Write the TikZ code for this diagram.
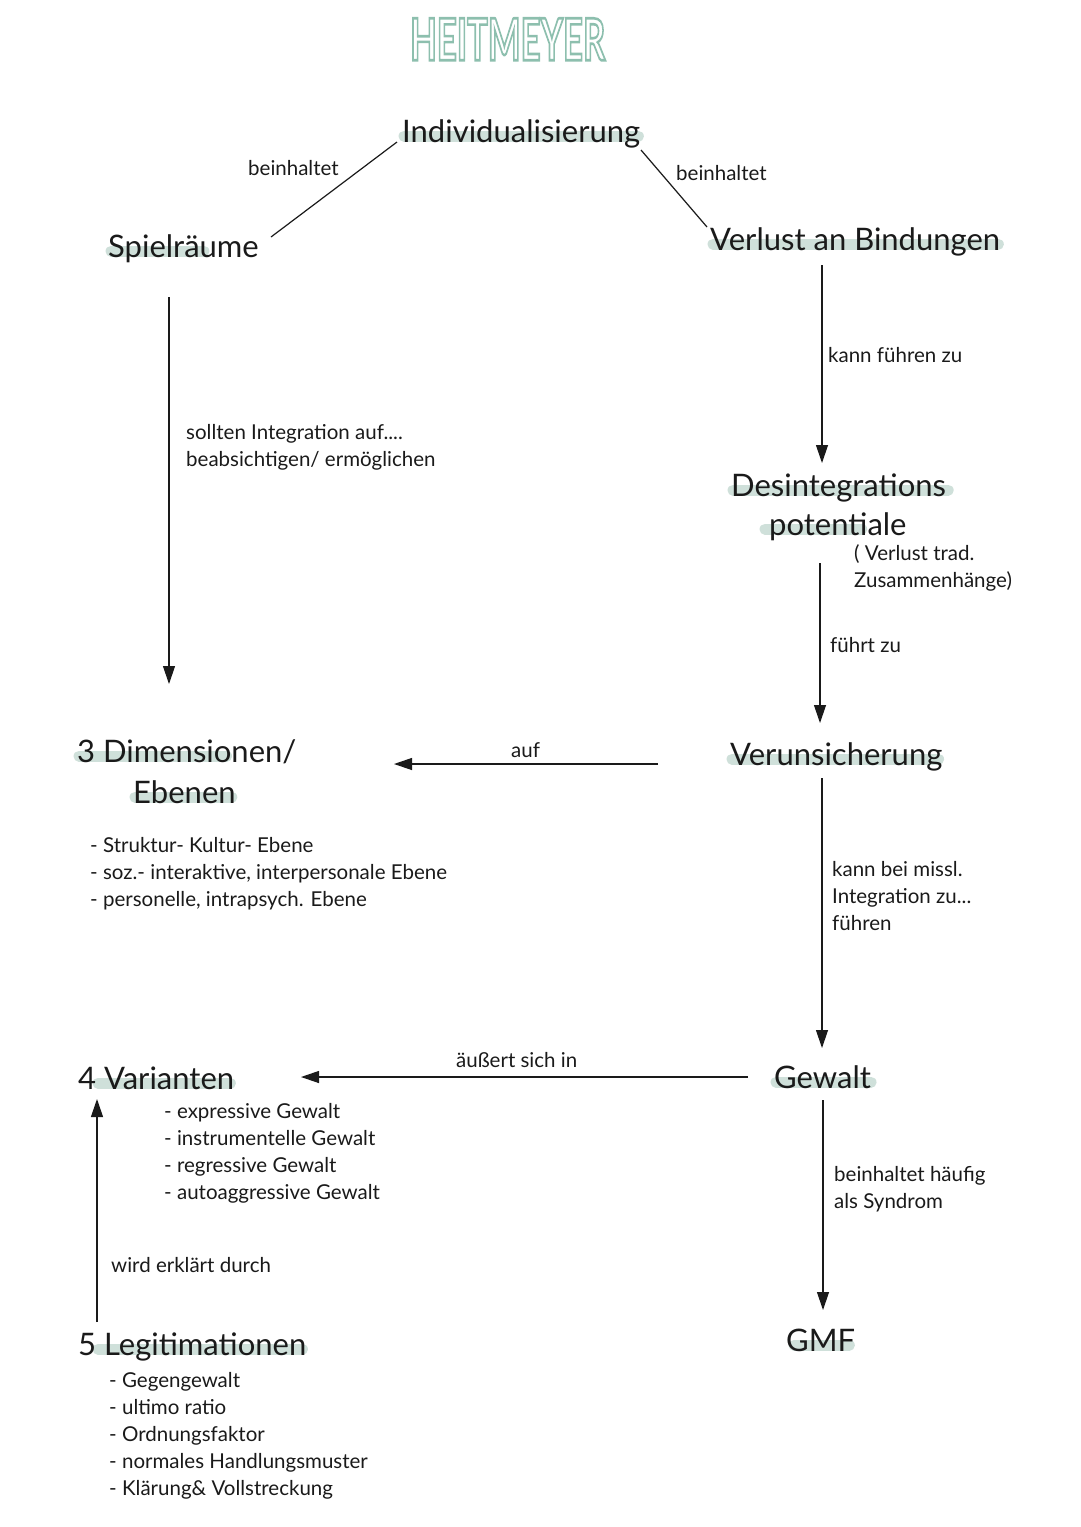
\documentclass[tikz,border=0pt]{standalone}
\usepackage{fontspec}
\setmainfont{Lato}
\usetikzlibrary{arrows.meta,backgrounds}
\definecolor{hlcol}{HTML}{CFE0DA}
\definecolor{titlecol}{HTML}{8DBFAE}
\definecolor{ink}{HTML}{1A1A1A}
\newcommand{\mylines}[1]{\begin{tabular}[t]{@{}l@{}}#1\end{tabular}}
\newcommand{\outlinetext}[1]{\special{pdf:literal direct 1 Tr 0.45 w}#1\special{pdf:literal direct 0 Tr}}
\tikzset{
  big/.style={anchor=base west,inner sep=0pt,font=\fontsize{31}{36}\selectfont,text=ink},
  small/.style={anchor=base west,inner sep=0pt,font=\fontsize{20.5}{27}\selectfont,text=ink},
  conn/.style={draw=ink,line width=1.2pt},
  arr/.style={conn,-{Triangle[length=18pt,width=12pt]}},
  hl/.style={draw=hlcol,line width=11pt,line cap=round}
}
\begin{document}
\begin{tikzpicture}[x=1pt,y=-1pt]
\useasboundingbox (0,0) rectangle (1080,1527);
% title
\node[anchor=north west,inner sep=0pt,text=titlecol] (title) at (410,18) {\resizebox{195pt}{42pt}{\bfseries\outlinetext{HEITMEYER}}};
% main nodes
\node[big] (ind) at (402,142) {Individualisierung};
\node[big] (spiel) at (108,257) {Spielräume};
\node[big] (vb) at (710,250) {Verlust an Bindungen};
\node[big] (des1) at (731,496) {Desintegrations};
\node[big] (des2) at (769,535) {potentiale};
\node[small] (desnote) at (854,560) {\mylines{( Verlust trad.\\Zusammenhänge)}};
\node[big] (dim1) at (77,762) {3 Dimensionen/};
\node[big] (dim2) at (133,803) {Ebenen};
\node[small] (dimlist) at (90,852) {\mylines{- Struktur- Kultur- Ebene\\- soz.- interaktive, interpersonale Ebene\\- personelle, intrapsych. Ebene}};
\node[big] (verun) at (730,765) {Verunsicherung};
\node[big] (gewalt) at (774,1088) {Gewalt};
\node[big] (gmf) at (786,1351) {GMF};
\node[big] (var) at (78,1089) {4 Varianten};
\node[small] (varlist) at (164,1118) {\mylines{- expressive Gewalt\\- instrumentelle Gewalt\\- regressive Gewalt\\- autoaggressive Gewalt}};
\node[big] (leg) at (78,1355) {5 Legitimationen};
\node[small] (leglist) at (109,1387) {\mylines{- Gegengewalt\\- ultimo ratio\\- Ordnungsfaktor\\- normales Handlungsmuster\\- Klärung\& Vollstreckung}};
% highlights
\begin{scope}[on background layer]
\draw[hl] ([shift={(2,-6)}]ind.base west) -- ([shift={(-2,-6)}]ind.base east);
\draw[hl] ([shift={(3,-6)}]spiel.base west) -- ([shift={(-55,-6)}]spiel.base east);
\draw[hl] ([shift={(3,-6)}]vb.base west) -- ([shift={(-2,-6)}]vb.base east);
\draw[hl] ([shift={(2,-6)}]des1.base west) -- ([shift={(2,-6)}]des1.base east);
\draw[hl] ([shift={(-4,-6)}]des2.base west) -- ([shift={(-45,-6)}]des2.base east);
\draw[hl] ([shift={(2,-6)}]dim1.base west) -- ([shift={(-70,-6)}]dim1.base east);
\draw[hl] ([shift={(2,-6)}]dim2.base west) -- ([shift={(-4,-6)}]dim2.base east);
\draw[hl] ([shift={(2,-6)}]verun.base west) -- ([shift={(-4,-6)}]verun.base east);
\draw[hl] ([shift={(2,-6)}]gewalt.base west) -- ([shift={(0,-6)}]gewalt.base east);
\draw[hl] ([shift={(8,-6)}]gmf.base west) -- ([shift={(-6,-6)}]gmf.base east);
\draw[hl] ([shift={(20,-6)}]var.base west) -- ([shift={(-4,-6)}]var.base east);
\draw[hl] ([shift={(20,-6)}]leg.base west) -- ([shift={(-4,-6)}]leg.base east);
\end{scope}
% connector end points
\coordinate (c1a) at (397,142); \coordinate (c1b) at (271,237);
\coordinate (c2a) at (641,150); \coordinate (c2b) at (707,227);
\coordinate (c3a) at (169,297); \coordinate (c3b) at (169,684);
\coordinate (c4a) at (822,265); \coordinate (c4b) at (822,463);
\coordinate (c5a) at (820,563); \coordinate (c5b) at (820,723);
\coordinate (c6a) at (658,764); \coordinate (c6b) at (394,764);
\coordinate (c7a) at (822,778); \coordinate (c7b) at (822,1048);
\coordinate (c8a) at (748,1077); \coordinate (c8b) at (301,1077);
\coordinate (c9a) at (823,1100); \coordinate (c9b) at (823,1310);
\coordinate (c10a) at (97,1322); \coordinate (c10b) at (97,1099);
% connectors
\draw[conn] (c1a) -- (c1b);
\draw[conn] (c2a) -- (c2b);
\draw[arr] (c3a) -- (c3b);
\draw[arr] (c4a) -- (c4b);
\draw[arr] (c5a) -- (c5b);
\draw[arr] (c6a) -- (c6b);
\draw[arr] (c7a) -- (c7b);
\draw[arr] (c8a) -- (c8b);
\draw[arr] (c9a) -- (c9b);
\draw[arr] (c10a) -- (c10b);
% labels
\node[small] (l1) at (248,175) {beinhaltet};
\node[small] (l2) at (676,180) {beinhaltet};
\node[small] (l3) at (186,439) {\mylines{sollten Integration auf....\\beabsichtigen/ ermöglichen}};
\node[small] (l4) at (828,362) {kann führen zu};
\node[small] (l5) at (830,652) {führt zu};
\node[small] (l6) at (511,757) {auf};
\node[small] (l7) at (832,876) {\mylines{kann bei missl.\\Integration zu...\\führen}};
\node[small] (l8) at (456,1067) {äußert sich in};
\node[small] (l9) at (834,1181) {\mylines{beinhaltet häufig\\als Syndrom}};
\node[small] (l10) at (111,1272) {wird erklärt durch};
\end{tikzpicture}
\end{document}
